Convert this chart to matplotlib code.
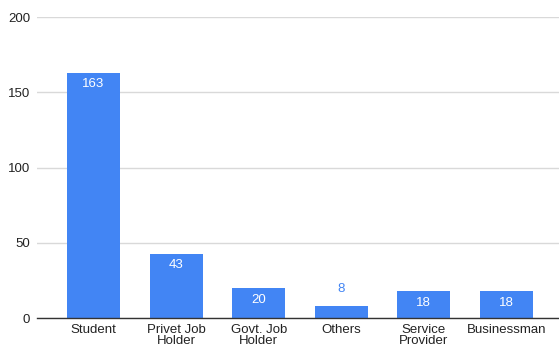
import matplotlib.pyplot as plt

categories = ["Student", "Privet Job\nHolder", "Govt. Job\nHolder", "Others", "Service\nProvider", "Businessman"]
counts = [163, 43, 20, 8, 18, 18]
y_ticks = [0, 50, 100, 150, 200]

bar_color = "#4285F4"

plt.rcParams['font.family'] = ['Liberation Sans', 'DejaVu Sans']

fig = plt.figure(figsize=(5.59, 3.49), dpi=100)
ax = fig.add_axes([0.0662, 0.088, 0.9338, 0.863])

x = list(range(len(categories)))
bars = ax.bar(x, counts, width=0.64, color=bar_color, zorder=3)

# value labels: inside the bar when it is tall enough, otherwise above it
for rect, val in zip(bars, counts):
    cx = rect.get_x() + rect.get_width() / 2
    if val >= 15:
        ax.annotate(str(val), (cx, val), xytext=(0, -4), textcoords="offset points",
                    ha="center", va="top", color="white", fontsize=9.5)
    else:
        ax.annotate(str(val), (cx, val), xytext=(0, 8), textcoords="offset points",
                    ha="center", va="bottom", color=bar_color, fontsize=9.5)

ax.set_xlim(-0.684, 5.636)
ax.set_ylim(0, 200)
ax.set_yticks(y_ticks)
ax.set_xticks(x)
ax.set_xticklabels(categories, fontsize=9.5, color="#222222", linespacing=0.95)
ax.tick_params(axis="y", labelsize=9.5, labelcolor="#222222", length=0, pad=5)
ax.tick_params(axis="x", length=0, pad=4)

ax.grid(axis="y", color="#d9d9d9", linewidth=1, zorder=0)
for side in ["top", "right", "left"]:
    ax.spines[side].set_visible(False)
ax.spines["bottom"].set_color("#333333")
ax.spines["bottom"].set_linewidth(1)
ax.spines["bottom"].set_zorder(4)

fig.savefig("out.png", dpi=100)
